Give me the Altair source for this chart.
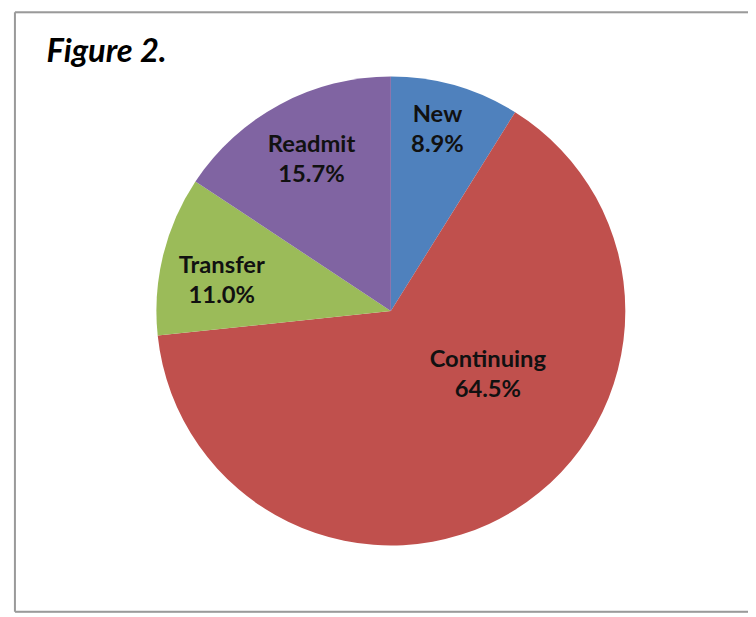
import altair as alt
import pandas as pd
import math

categories = ["New", "Continuing", "Transfer", "Readmit"]
values = [8.9, 64.5, 11.0, 15.7]
colors = ["#4F81BD", "#C0504D", "#9BBB59", "#8064A2"]

df = pd.DataFrame({"cat": categories, "val": values, "idx": list(range(len(categories)))})
df["label"] = df["cat"] + "\n" + df["val"].map(lambda v: f"{v:.1f}%")

CX, CY, R = 380, 302, 237
FONT = "Lato"
FS = 24

pie = alt.Chart(df).mark_arc(radius=R).encode(
    theta=alt.Theta("val:Q", stack=True),
    order=alt.Order("idx:Q", sort="ascending"),
    x=alt.value(CX), y=alt.value(CY),
    color=alt.Color("cat:N", scale=alt.Scale(domain=categories, range=colors), legend=None),
)

lab = alt.Chart(df).transform_joinaggregate(total="sum(val)").transform_window(
    cum="sum(val)", sort=[alt.SortField("idx", order="ascending")]
).transform_calculate(mid="(datum.cum - datum.val / 2) / datum.total")

theta_mid = alt.Theta("mid:Q", scale=alt.Scale(domain=[0, 1], range=[0, 2 * math.pi]))


def label_layer(cat, radius, dx, dy):
    return lab.transform_filter(alt.datum.cat == cat).mark_text(
        radius=radius, font=FONT, fontWeight="bold", fontSize=FS, lineBreak="\n",
        lineHeight=30, color="#111111", align="center", baseline="middle", dx=dx, dy=dy,
    ).encode(x=alt.value(CX), y=alt.value(CY), theta=theta_mid, text="label:N")


labels = [
    label_layer("New", 178, -2, -27),
    label_layer("Readmit", 178, 4, -11),
    label_layer("Transfer", 178, 2, -3),
    label_layer("Continuing", 100, 45, -35),
]

title = alt.Chart(df).transform_filter(alt.datum.idx == 0).mark_text(
    text="Figure 2.", font=FONT, fontWeight="bold", fontStyle="italic", fontSize=33,
    color="#000000", align="left", baseline="alphabetic",
).encode(x=alt.value(32), y=alt.value(50))

W, H = 741, 606
left = alt.Chart(df).transform_filter(alt.datum.idx == 0).mark_rule(color="#9a9a9a", strokeWidth=2).encode(
    x=alt.value(0), y=alt.value(0), y2=alt.value(H))
top = alt.Chart(df).transform_filter(alt.datum.idx == 0).mark_rule(color="#9a9a9a", strokeWidth=2).encode(
    x=alt.value(0), x2=alt.value(W + 10), y=alt.value(0))
bottom = alt.Chart(df).transform_filter(alt.datum.idx == 0).mark_rule(color="#9a9a9a", strokeWidth=2).encode(
    x=alt.value(0), x2=alt.value(W + 10), y=alt.value(H))

chart = alt.layer(pie, *labels, title, left, top, bottom).resolve_scale(
    theta="independent"
).properties(
    width=W, height=H,
    autosize=alt.AutoSizeParams(type="none"),
    padding={"left": 7, "top": 1, "right": 0, "bottom": 0},
).configure_view(stroke=None).configure(background="white")

chart.save("out.html", embed_options={"renderer": "svg", "actions": False})
